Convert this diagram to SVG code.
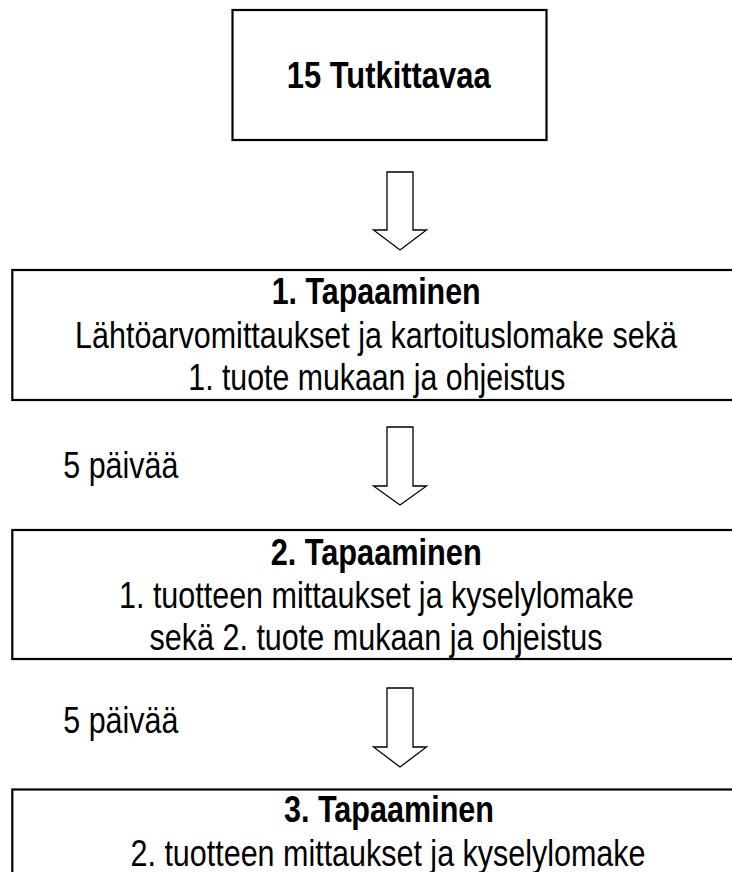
<svg xmlns="http://www.w3.org/2000/svg" width="732" height="872" viewBox="0 0 732 872">
<style>
.box{fill:#fff;stroke:#000;stroke-width:2.2}
.arrow{fill:#fff;stroke:#000;stroke-width:1.3;stroke-linejoin:miter}
text{font-family:"Liberation Sans Narrow","Arial Narrow","Liberation Sans",Arial,sans-serif;font-size:37px;fill:#000}
.b{font-weight:bold}
.c{text-anchor:middle}
</style>
<rect width="732" height="872" fill="#fff"/>
<g id="node-start">
<rect class="box" x="232.5" y="10" width="314" height="130"/>
<text class="b c" x="388.7" y="88" textLength="204" lengthAdjust="spacingAndGlyphs">15 Tutkittavaa</text>
</g>
<g id="connectors">
<polygon class="arrow" points="387,172 413,172 413,230 426.5,230 400,250 373.5,230 387,230"/>
<polygon class="arrow" points="387,427 413,427 413,486 426.5,486 400,505 373.5,486 387,486"/>
<polygon class="arrow" points="387,688 413,688 413,747 426.5,747 400,767 373.5,747 387,747"/>
</g>
<g id="label-1">
<text x="63.3" y="478" textLength="115" lengthAdjust="spacingAndGlyphs">5 päivää</text>
</g>
<g id="label-2">
<text x="63.3" y="733" textLength="115" lengthAdjust="spacingAndGlyphs">5 päivää</text>
</g>
<g id="node-1">
<rect class="box" x="12.3" y="270" width="740" height="130"/>
<text class="b c" x="376.2" y="304" textLength="209" lengthAdjust="spacingAndGlyphs">1. Tapaaminen</text>
<text class="c" x="376" y="348" textLength="602" lengthAdjust="spacingAndGlyphs">Lähtöarvomittaukset ja kartoituslomake sekä</text>
<text class="c" x="376.8" y="390" textLength="377" lengthAdjust="spacingAndGlyphs">1. tuote mukaan ja ohjeistus</text>
</g>
<g id="node-2">
<rect class="box" x="12.3" y="530" width="740" height="129"/>
<text class="b c" x="376.2" y="565" textLength="211" lengthAdjust="spacingAndGlyphs">2. Tapaaminen</text>
<text class="c" x="376.5" y="608" textLength="515" lengthAdjust="spacingAndGlyphs">1. tuotteen mittaukset ja kyselylomake</text>
<text class="c" x="376" y="650" textLength="453" lengthAdjust="spacingAndGlyphs">sekä 2. tuote mukaan ja ohjeistus</text>
</g>
<g id="node-3">
<rect class="box" x="12.3" y="789.5" width="760" height="130"/>
<text class="b c" x="389" y="822" textLength="210" lengthAdjust="spacingAndGlyphs">3. Tapaaminen</text>
<text class="c" x="388" y="866" textLength="515" lengthAdjust="spacingAndGlyphs">2. tuotteen mittaukset ja kyselylomake</text>
</g>
</svg>
